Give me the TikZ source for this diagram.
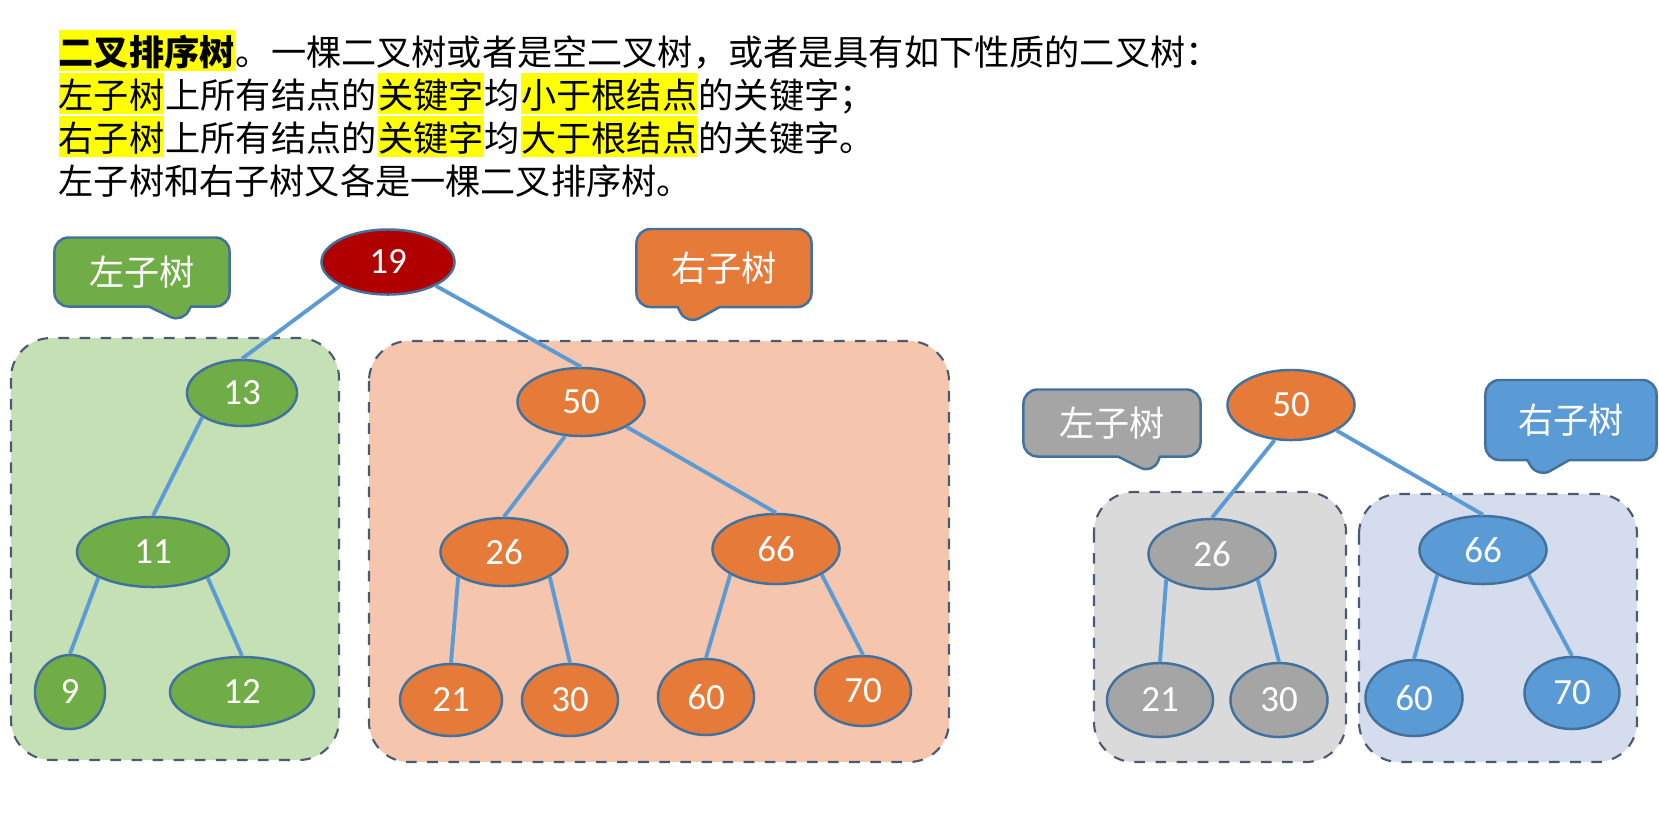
\documentclass[tikz,border=0pt]{standalone}
\usepackage{fontspec}
\setmainfont{Carlito}
\newfontfamily\cjk{Noto Sans CJK SC}
\usetikzlibrary{shapes.geometric,shapes.callouts,positioning}

\definecolor{rootred}{RGB}{176,0,0}
\definecolor{nodegreen}{RGB}{112,173,71}
\definecolor{nodeorange}{RGB}{230,122,56}
\definecolor{nodegray}{RGB}{165,165,165}
\definecolor{nodeblue}{RGB}{91,155,213}
\definecolor{outline}{RGB}{65,113,156}
\definecolor{edgeblue}{RGB}{91,155,213}
\definecolor{boxgreen}{RGB}{197,224,180}
\definecolor{boxorange}{RGB}{245,198,173}
\definecolor{boxgray}{RGB}{218,218,218}
\definecolor{boxblue}{RGB}{212,220,238}
\definecolor{boxline}{RGB}{74,90,112}
\definecolor{hlyellow}{RGB}{255,255,0}

\begin{document}
\begin{tikzpicture}[x=0.01cm, y=-0.01cm,
    txt/.style={inner sep=0pt, text height=1.0em, text depth=0.16em, font=\cjk\fontsize{10}{12}\selectfont},
    hl/.style={txt, fill=hlyellow},
    key/.style={ellipse, draw=outline, line width=0.7pt, inner sep=0pt, text=white,
        font=\fontsize{10.5}{12}\selectfont, minimum width=1.27cm, minimum height=0.68cm},
    sub/.style={rectangle callout, draw=outline, line width=0.7pt, rounded corners=4pt,
        text=white, font=\cjk\fontsize{10}{12}\selectfont, callout pointer width=0.42cm},
    grp/.style={draw=boxline, dashed, line width=0.6pt, rounded corners=0.4cm},
    edge/.style={draw=edgeblue, line width=1.1pt}]
    \useasboundingbox (0,0) rectangle (1659,817);

    % Text
    \node[hl, font=\cjk\bfseries\fontsize{10}{12}\selectfont, anchor=base west] (t1a) at (58,65) {二叉排序树};
    \node[txt, right=0pt of t1a] (t1b) {。一棵二叉树或者是空二叉树，或者是具有如下性质的二叉树：};
    \node[hl, anchor=base west] (t2a) at (58,108) {左子树};
    \node[txt, right=0pt of t2a] (t2b) {上所有结点的};
    \node[hl, right=0pt of t2b] (t2c) {关键字};
    \node[txt, right=0pt of t2c] (t2d) {均};
    \node[hl, right=0pt of t2d] (t2e) {小于根结点};
    \node[txt, right=0pt of t2e] (t2f) {的关键字；};
    \node[hl, anchor=base west] (t3a) at (58,151) {右子树};
    \node[txt, right=0pt of t3a] (t3b) {上所有结点的};
    \node[hl, right=0pt of t3b] (t3c) {关键字};
    \node[txt, right=0pt of t3c] (t3d) {均};
    \node[hl, right=0pt of t3d] (t3e) {大于根结点};
    \node[txt, right=0pt of t3e] (t3f) {的关键字。};
    \node[txt, anchor=base west] (t4) at (58,194) {左子树和右子树又各是一棵二叉排序树。};

    % Boxes
    \draw[grp, fill=boxgreen] (11,338) rectangle (339,760);
    \draw[grp, fill=boxorange] (369,341) rectangle (949,762);
    \draw[grp, fill=boxgray] (1094,492) rectangle (1346,762);
    \draw[grp, fill=boxblue] (1359,494) rectangle (1637,762);

    % Callouts
    \node[sub, fill=nodegreen, minimum width=1.75cm, minimum height=0.69cm,
        callout absolute pointer={(183,323)}] (LeftA) at (142,272) {左子树};
    \node[sub, fill=nodeorange, minimum width=1.75cm, minimum height=0.78cm,
        callout absolute pointer={(687,325)}] (RightA) at (724,268) {右子树};
    \node[sub, fill=nodegray, minimum width=1.77cm, minimum height=0.67cm,
        callout absolute pointer={(1153,474)}] (LeftB) at (1112,423) {左子树};
    \node[sub, fill=nodeblue, minimum width=1.71cm, minimum height=0.80cm,
        callout absolute pointer={(1538,478)}] (RightB) at (1571,420) {右子树};

    % Nodes
    \node[key, fill=rootred, minimum width=1.33cm, minimum height=0.65cm] (A19) at (388,262) {19};
    \node[key, fill=nodegreen, minimum width=1.10cm, minimum height=0.66cm] (A13) at (242,393) {13};
    \node[key, fill=nodegreen, minimum width=1.52cm, minimum height=0.70cm] (A11) at (153,552) {11};
    \node[key, fill=nodegreen, minimum width=0.70cm, minimum height=0.74cm] (A9) at (70,692) {9};
    \node[key, fill=nodegreen, minimum width=1.44cm, minimum height=0.70cm] (A12) at (242,692) {12};
    \node[key, fill=nodeorange] (A50) at (581,402) {50};
    \node[key, fill=nodeorange] (A26) at (504,552) {26};
    \node[key, fill=nodeorange, minimum height=0.70cm] (A66) at (776,549) {66};
    \node[key, fill=nodeorange, minimum width=1.02cm, minimum height=0.72cm] (A21) at (451,700) {21};
    \node[key, fill=nodeorange, minimum width=0.96cm, minimum height=0.72cm] (A30) at (570,700) {30};
    \node[key, fill=nodeorange, minimum width=0.96cm, minimum height=0.76cm] (A60) at (706,697) {60};
    \node[key, fill=nodeorange, minimum width=0.96cm, minimum height=0.70cm] (A70) at (863,691) {70};

    \node[key, fill=nodeorange, minimum height=0.70cm] (B50) at (1291,405) {50};
    \node[key, fill=nodegray, minimum height=0.70cm] (B26) at (1212,554) {26};
    \node[key, fill=nodeblue] (B66) at (1483,550) {66};
    \node[key, fill=nodegray, minimum width=1.06cm, minimum height=0.74cm] (B21) at (1160,700) {21};
    \node[key, fill=nodegray, minimum width=0.97cm, minimum height=0.74cm] (B30) at (1279,700) {30};
    \node[key, fill=nodeblue, minimum width=0.97cm, minimum height=0.76cm] (B60) at (1414,698) {60};
    \node[key, fill=nodeblue, minimum width=0.95cm, minimum height=0.72cm] (B70) at (1572,693) {70};

    % Lines
    \draw[edge] (A19.south west) -- (A13.north);
    \draw[edge] (A19.south east) -- (A50.north);
    \draw[edge] (A13.south west) -- (A11.north);
    \draw[edge] (A11.south west) -- (A9.north);
    \draw[edge] (A11.south east) -- (A12.north);
    \draw[edge] (A50.-115) -- (A26.north);
    \draw[edge] (A50.south east) -- (A66.north);
    \draw[edge] (A26.south west) -- (A21.north);
    \draw[edge] (A26.south east) -- (A30.north);
    \draw[edge] (A66.south west) -- (A60.north);
    \draw[edge] (A66.south east) -- (A70.north);

    \draw[edge] (B50.-115) -- (B26.north);
    \draw[edge] (B50.south east) -- (B66.north);
    \draw[edge] (B26.south west) -- (B21.north);
    \draw[edge] (B26.south east) -- (B30.north);
    \draw[edge] (B66.south west) -- (B60.north);
    \draw[edge] (B66.south east) -- (B70.north);

\end{tikzpicture}
\end{document}
